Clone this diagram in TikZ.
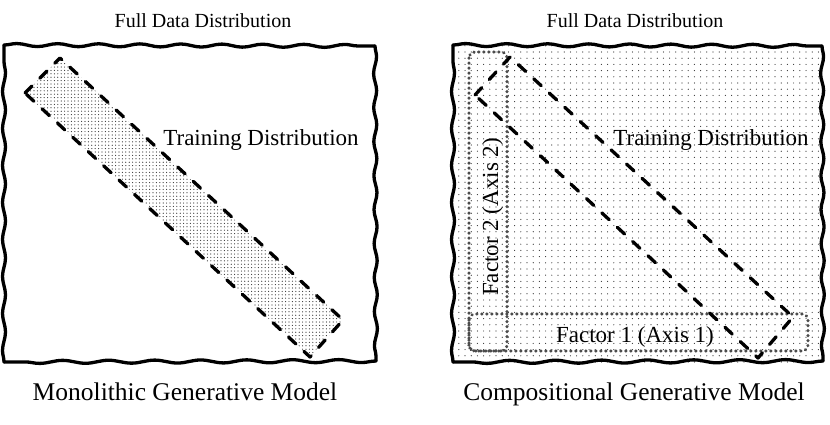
\documentclass[tikz,border=0pt]{standalone}
\usepackage{fontspec}
\setmainfont{Liberation Serif}
\usetikzlibrary{patterns,decorations.pathmorphing}
\pgfdeclarepatternformonly{densedots}{\pgfpoint{-1pt}{-1pt}}{\pgfpoint{1pt}{1pt}}{\pgfpoint{3.4pt}{3.4pt}}{\pgfpathcircle{\pgfpointorigin}{0.6pt}\pgfusepath{fill}}
\pgfdeclarepatternformonly{sparsedots}{\pgfpoint{-1pt}{-1pt}}{\pgfpoint{1pt}{1pt}}{\pgfpoint{6.2pt}{6.2pt}}{\pgfpathcircle{\pgfpointorigin}{0.6pt}\pgfusepath{fill}}
\tikzset{
  frameside/.style={line width=3.3pt, line cap=round, decorate, decoration={snake, segment length=#1, amplitude=1.5pt}},
  band/.style={line width=3.3pt, dash pattern=on 10pt off 11pt, line cap=round, line join=round},
  factorbox/.style={line width=3.2pt, dash pattern=on 0.3pt off 4.7pt, line cap=round, draw=black!70, rounded corners=6pt},
  titletext/.style={anchor=base, font=\fontsize{20}{24}\selectfont},
  midtext/.style={anchor=base, font=\fontsize{23}{27}\selectfont},
  captext/.style={anchor=base, font=\fontsize{25.5}{30}\selectfont},
}
\newcommand{\wavyframe}[4]{%
  \draw[frameside=41pt] (#1,#2) -- (#3,#2+1);
  \draw[frameside=34pt] (#3,#2+1) -- (#3+1,#4);
  \draw[frameside=46pt] (#3+1,#4) -- (#1,#4+1);
  \draw[frameside=37pt] (#1,#4+1) -- (#1,#2);
}
\begin{document}
\begin{tikzpicture}[x=1pt,y=-1pt]
\useasboundingbox (0,0) rectangle (830,424);
% left panel
\fill[pattern=densedots, pattern color=black!80] (25,93) -- (60,58) -- (343,320) -- (310,357) -- cycle;
\draw[band] (25,93) -- (60,58) -- (343,320) -- (310,357) -- cycle;
\wavyframe{4}{45}{375}{361}
\node[titletext] (titleL) at (203,27) {Full Data Distribution};
\node[midtext] (trainL) at (261,145) {Training Distribution};
\node[captext] (capL) at (185,400) {Monolithic Generative Model};
% right panel
\fill[pattern=sparsedots, pattern color=black!80] (453,45) rectangle (823,362);
\draw[factorbox] (469,52) rectangle (507,351);
\draw[factorbox] (469,314) rectangle (808,351);
\draw[band] (475,95) -- (510,57) -- (793,317) -- (758,358) -- cycle;
\wavyframe{453}{45}{822}{361}
\node[titletext] (titleR) at (635,27) {Full Data Distribution};
\node[midtext] (trainR) at (711,145) {Training Distribution};
\node[midtext] (fac1) at (635,342) {Factor 1 (Axis 1)};
\node[midtext, rotate=90] (fac2) at (498,217) {Factor 2 (Axis 2)};
\node[captext] (capR) at (634,400) {Compositional Generative Model};
\end{tikzpicture}
\end{document}
